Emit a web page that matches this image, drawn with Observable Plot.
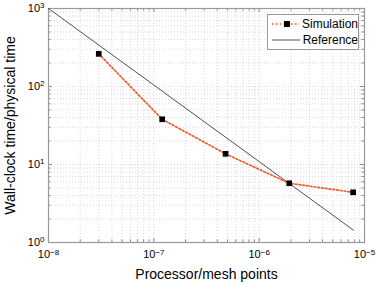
<!DOCTYPE html>
<html><head><meta charset="utf-8">
<script src="https://cdn.jsdelivr.net/npm/d3@7"></script>
<script src="https://cdn.jsdelivr.net/npm/@observablehq/plot@0.6"></script>
<style>
body{margin:0;background:#fff;font-family:"Liberation Sans",Arial,sans-serif;}
#wrap{position:relative;width:376px;height:285px;}
#legend{position:absolute;left:267px;top:14px;width:90px;height:34px;border:1px solid #999;background:#fff;font-size:12px;color:#000;}
#legend div{height:16px;display:flex;align-items:center;}
#legend svg{margin:0 3px 0 3px;}
</style></head><body>
<div id="wrap"></div>
<script>
const simX = [3e-8, 1.2e-7, 4.8e-7, 1.93e-6, 7.8e-6];
const simY = [262, 38, 13.7, 5.75, 4.4];
const refX = [1e-8, 7.8e-6];
const refY = [1000, 1.45];
const xTicks = [1e-8, 1e-7, 1e-6, 1e-5];
const yTicks = [1, 10, 100, 1000];
const xLabel = "Processor/mesh points";
const yLabel = "Wall-clock time/physical time";
const legendNames = ["Simulation", "Reference"];

const sim = simX.map((x, i) => ({x, y: simY[i]}));
const ref = refX.map((x, i) => ({x, y: refY[i]}));
const minors = (decs) => decs.flatMap(d => d3.range(2, 10).map(k => k * d));
const xMinor = minors([1e-8, 1e-7, 1e-6]);
const yMinor = minors([1, 10, 100]);
const xAll = xTicks.concat(xMinor), yAll = yTicks.concat(yMinor);
const exp = v => Math.round(Math.log10(v));

const W = 376, H = 285, mL = 48, mR = 12, mT = 8, mB = 43;
const fw = W - mL - mR, fh = H - mT - mB;
const simColor = "#f25a2c";

const plot = Plot.plot({
  width: W, height: H,
  marginLeft: mL, marginRight: mR, marginTop: mT, marginBottom: mB,
  style: {fontFamily: '"Liberation Sans", Arial, sans-serif', background: "#fff"},
  x: {type: "log", domain: [1e-8, 1e-5]},
  y: {type: "log", domain: [1, 1000]},
  marks: [
    Plot.ruleX(xAll, {x: d => d, stroke: "#cfcfcf", strokeWidth: 0.8, strokeDasharray: "1,2"}),
    Plot.ruleY(yAll, {y: d => d, stroke: "#cfcfcf", strokeWidth: 0.8, strokeDasharray: "1,2"}),
    Plot.tickX(xTicks, {x: d => d, stroke: "#888", insetTop: fh - 4}),
    Plot.tickX(xTicks, {x: d => d, stroke: "#888", insetBottom: fh - 4}),
    Plot.tickX(xMinor, {x: d => d, stroke: "#888", insetTop: fh - 2.5}),
    Plot.tickX(xMinor, {x: d => d, stroke: "#888", insetBottom: fh - 2.5}),
    Plot.tickY(yTicks, {y: d => d, stroke: "#888", insetRight: fw - 4}),
    Plot.tickY(yTicks, {y: d => d, stroke: "#888", insetLeft: fw - 4}),
    Plot.tickY(yMinor, {y: d => d, stroke: "#888", insetRight: fw - 2.5}),
    Plot.tickY(yMinor, {y: d => d, stroke: "#888", insetLeft: fw - 2.5}),
    Plot.frame({stroke: "#999", strokeWidth: 1.2}),
    Plot.line(ref, {x: "x", y: "y", stroke: "#222", strokeWidth: 0.8}),
    Plot.line(sim, {x: "x", y: "y", stroke: simColor, strokeWidth: 1.7, strokeDasharray: "1.8,2"}),
    Plot.dot(sim, {x: "x", y: "y", symbol: "square", r: 3.2, fill: "#000", stroke: "none"}),
    Plot.axisX(xTicks, {tickSize: 0, tickPadding: 8, fontSize: 11, tickFormat: d => "10|" + exp(d), label: null}),
    Plot.axisY(yTicks, {tickSize: 0, tickPadding: 4, fontSize: 11, tickFormat: d => "10|" + exp(d), label: null}),
    Plot.text([xLabel], {text: d => d, frameAnchor: "bottom", textAnchor: "middle", lineAnchor: "middle", dy: 32, fontSize: 14, fill: "#000"}),
    Plot.text([yLabel], {text: d => d, frameAnchor: "left", textAnchor: "middle", lineAnchor: "middle", rotate: -90, dx: -38, fontSize: 14, fill: "#000"})
  ]
});
document.getElementById("wrap").appendChild(plot);

// superscript exponents
plot.querySelectorAll("text").forEach(t => {
  const s = t.textContent;
  if (/^10\|-?\d+$/.test(s)) {
    const e = s.split("|")[1].replace("-", "\u2212");
    t.textContent = "";
    const a = document.createElementNS("http://www.w3.org/2000/svg", "tspan");
    a.textContent = "10";
    const b = document.createElementNS("http://www.w3.org/2000/svg", "tspan");
    b.textContent = e; b.setAttribute("dy", "-0.45em"); b.setAttribute("font-size", "8");
    t.appendChild(a); t.appendChild(b);
  }
});

// legend
const leg = document.createElement("div");
leg.id = "legend";
leg.innerHTML =
  `<div style="margin-top:1px"><svg width="32" height="10"><line x1="1" y1="5" x2="31" y2="5" stroke="${simColor}" stroke-width="1.7" stroke-dasharray="1.8,2"/><rect x="13" y="2" width="6" height="6" fill="#000"/></svg><span>${legendNames[0]}</span></div>` +
  `<div><svg width="32" height="10"><line x1="1" y1="5" x2="31" y2="5" stroke="#222" stroke-width="0.8"/></svg><span>${legendNames[1]}</span></div>`;
document.getElementById("wrap").appendChild(leg);
</script></body></html>
